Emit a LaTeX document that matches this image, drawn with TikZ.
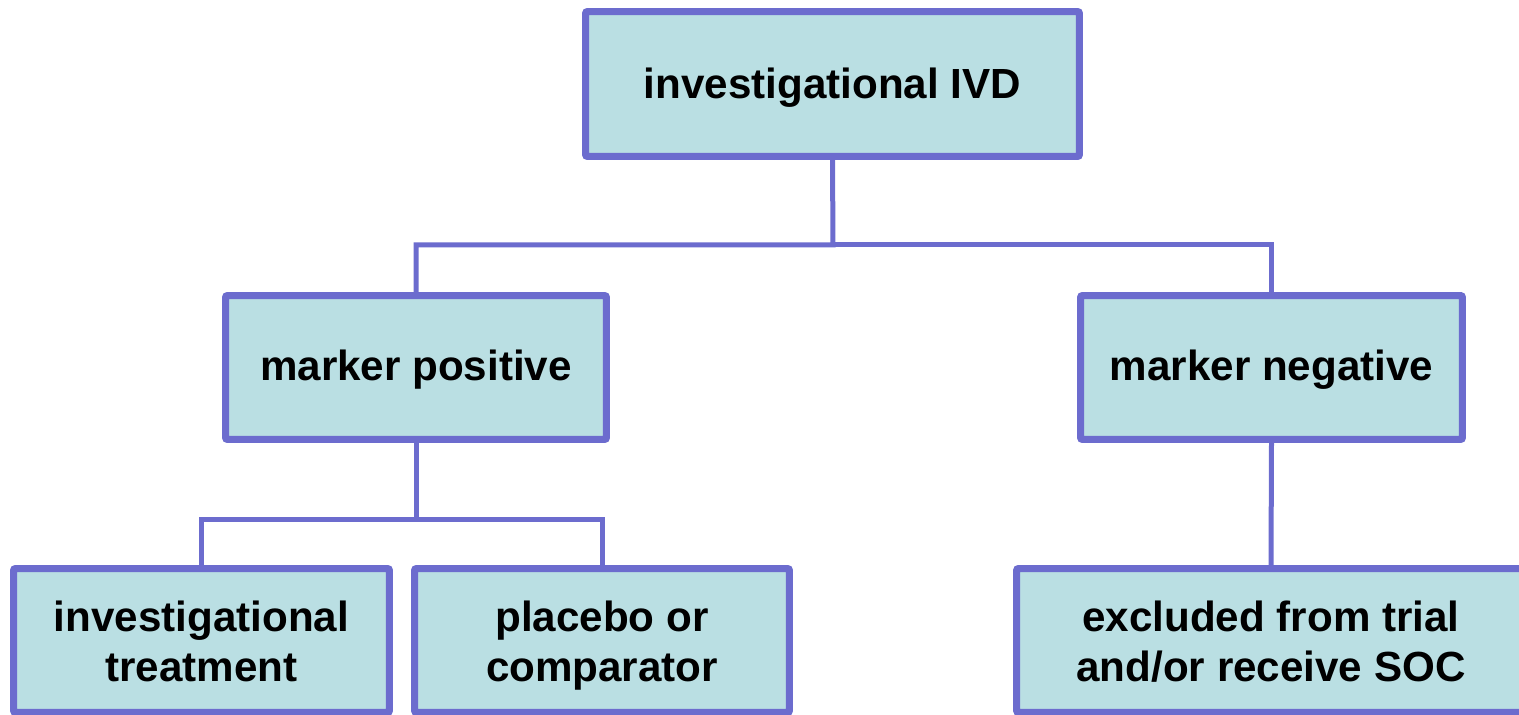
\documentclass[tikz,border=0pt]{standalone}
\usepackage{fontspec}
\setmainfont{Liberation Sans}
\definecolor{bordc}{RGB}{108,108,206}
\definecolor{fillc}{RGB}{186,223,227}
\begin{document}
\begin{tikzpicture}[x=0.02cm,y=-0.02cm,
  boxnode/.style={draw=bordc,fill=fillc,line width=0.14cm,rounded corners=0.04cm,
    minimum height=2.88cm,inner sep=0pt,align=center,
    font=\fontsize{24}{28.5}\selectfont\bfseries},
  oneline/.style={text height=0.64cm,text depth=0.1cm},
  twoline/.style={text height=1.76cm,text depth=0.1cm},
  conn/.style={draw=bordc,line width=0.1cm}]
\useasboundingbox (0,0) rectangle (1519,715);
\clip (0,0) rectangle (1519,715);
\node[boxnode,oneline,minimum width=9.88cm,minimum height=2.9cm,text height=0.7cm] (top) at (832.5,84) {investigational IVD};
\node[boxnode,oneline,minimum width=7.62cm] (mpos) at (416,367.5) {marker positive};
\node[boxnode,oneline,minimum width=7.64cm] (mneg) at (1271.5,367.5) {marker negative};
\node[boxnode,twoline,minimum width=7.52cm] (inv) at (201.5,640.5) {investigational\\treatment};
\node[boxnode,twoline,minimum width=7.5cm] (plac) at (602,640.5) {placebo or\\comparator};
\node[boxnode,twoline,minimum width=10.18cm] (excl) at (1271,640.5) {excluded from trial\\and/or receive SOC};
\coordinate (j1) at (833,245);
\coordinate (j2) at (416,520);
\draw[conn] (top.south) -- (j1) -| (mpos.north);
\draw[conn] (j1) -| (mneg.north);
\draw[conn] (mpos.south) -- (j2) -| (inv.north);
\draw[conn] (j2) -| (plac.north);
\draw[conn] (mneg.south) -- (excl.north);
\end{tikzpicture}
\end{document}
